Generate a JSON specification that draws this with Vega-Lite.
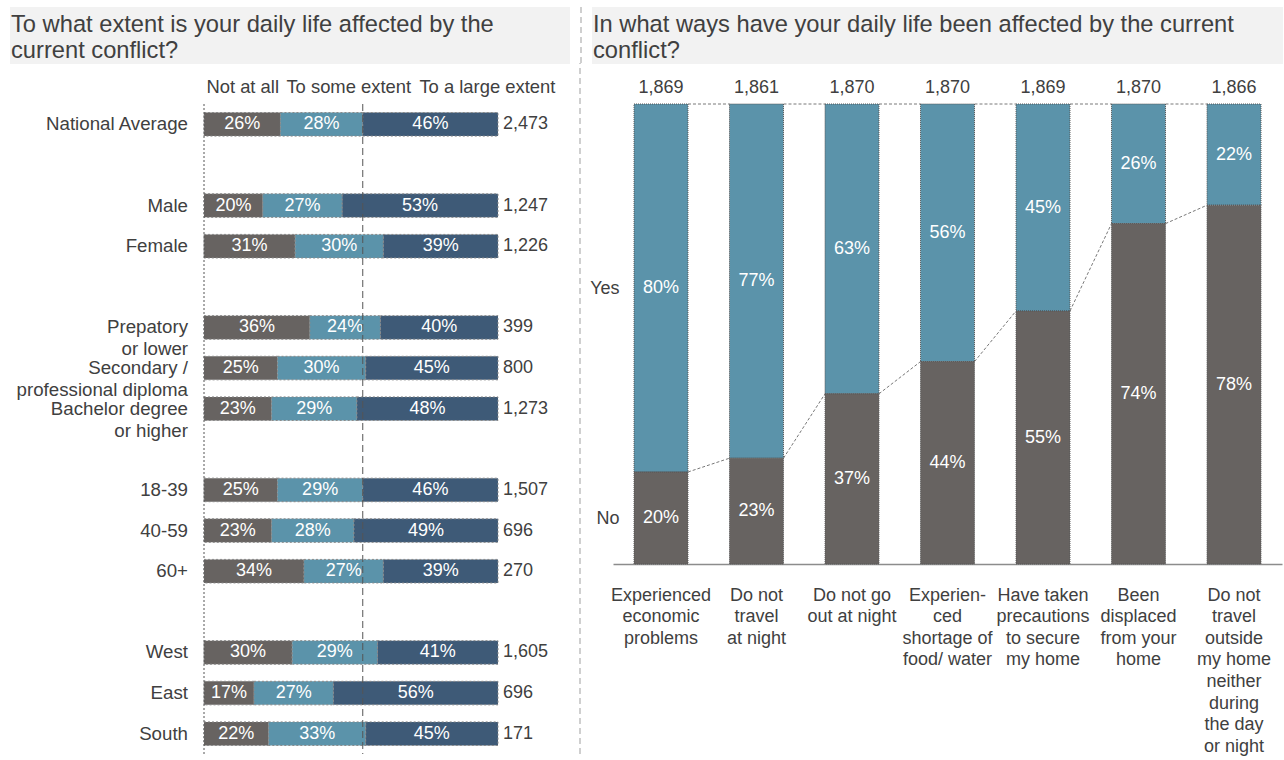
{
  "$schema": "https://vega.github.io/schema/vega-lite/v6.json",
  "padding": {"left": 10, "top": 6, "right": 0, "bottom": 0},
  "background": "white",
  "config": {
    "view": {"stroke": null},
    "font": "Liberation Sans",
    "axis": {"labelFont": "Liberation Sans", "labelColor": "#404040", "labelFontSize": 18, "grid": false},
    "legend": {"labelFont": "Liberation Sans"}
  },
  "datasets": {
    "left": [
      {"grp": "National Average", "cat": "Not at all", "k": 1, "v": 0.26},
      {"grp": "National Average", "cat": "To some extent", "k": 2, "v": 0.28},
      {"grp": "National Average", "cat": "To a large extent", "k": 3, "v": 0.46},
      {"grp": "Male", "cat": "Not at all", "k": 1, "v": 0.20},
      {"grp": "Male", "cat": "To some extent", "k": 2, "v": 0.27},
      {"grp": "Male", "cat": "To a large extent", "k": 3, "v": 0.53},
      {"grp": "Female", "cat": "Not at all", "k": 1, "v": 0.31},
      {"grp": "Female", "cat": "To some extent", "k": 2, "v": 0.30},
      {"grp": "Female", "cat": "To a large extent", "k": 3, "v": 0.39},
      {"grp": "Prepatory or lower", "cat": "Not at all", "k": 1, "v": 0.36},
      {"grp": "Prepatory or lower", "cat": "To some extent", "k": 2, "v": 0.24},
      {"grp": "Prepatory or lower", "cat": "To a large extent", "k": 3, "v": 0.40},
      {"grp": "Secondary / professional diploma", "cat": "Not at all", "k": 1, "v": 0.25},
      {"grp": "Secondary / professional diploma", "cat": "To some extent", "k": 2, "v": 0.30},
      {"grp": "Secondary / professional diploma", "cat": "To a large extent", "k": 3, "v": 0.45},
      {"grp": "Bachelor degree or higher", "cat": "Not at all", "k": 1, "v": 0.23},
      {"grp": "Bachelor degree or higher", "cat": "To some extent", "k": 2, "v": 0.29},
      {"grp": "Bachelor degree or higher", "cat": "To a large extent", "k": 3, "v": 0.48},
      {"grp": "18-39", "cat": "Not at all", "k": 1, "v": 0.25},
      {"grp": "18-39", "cat": "To some extent", "k": 2, "v": 0.29},
      {"grp": "18-39", "cat": "To a large extent", "k": 3, "v": 0.46},
      {"grp": "40-59", "cat": "Not at all", "k": 1, "v": 0.23},
      {"grp": "40-59", "cat": "To some extent", "k": 2, "v": 0.28},
      {"grp": "40-59", "cat": "To a large extent", "k": 3, "v": 0.49},
      {"grp": "60+", "cat": "Not at all", "k": 1, "v": 0.34},
      {"grp": "60+", "cat": "To some extent", "k": 2, "v": 0.27},
      {"grp": "60+", "cat": "To a large extent", "k": 3, "v": 0.39},
      {"grp": "West", "cat": "Not at all", "k": 1, "v": 0.30},
      {"grp": "West", "cat": "To some extent", "k": 2, "v": 0.29},
      {"grp": "West", "cat": "To a large extent", "k": 3, "v": 0.41},
      {"grp": "East", "cat": "Not at all", "k": 1, "v": 0.17},
      {"grp": "East", "cat": "To some extent", "k": 2, "v": 0.27},
      {"grp": "East", "cat": "To a large extent", "k": 3, "v": 0.56},
      {"grp": "South", "cat": "Not at all", "k": 1, "v": 0.22},
      {"grp": "South", "cat": "To some extent", "k": 2, "v": 0.33},
      {"grp": "South", "cat": "To a large extent", "k": 3, "v": 0.45}
    ],
    "leftN": [
      {"grp": "National Average", "lbl": "National Average", "n": 2473},
      {"grp": "Male", "lbl": "Male", "n": 1247},
      {"grp": "Female", "lbl": "Female", "n": 1226},
      {"grp": "Prepatory or lower", "lbl": ["Prepatory", "or lower"], "n": 399},
      {"grp": "Secondary / professional diploma", "lbl": ["Secondary /\u00a0", "professional diploma"], "n": 800},
      {"grp": "Bachelor degree or higher", "lbl": ["Bachelor degree", "or higher"], "n": 1273},
      {"grp": "18-39", "lbl": "18-39", "n": 1507},
      {"grp": "40-59", "lbl": "40-59", "n": 696},
      {"grp": "60+", "lbl": "60+", "n": 270},
      {"grp": "West", "lbl": "West", "n": 1605},
      {"grp": "East", "lbl": "East", "n": 696},
      {"grp": "South", "lbl": "South", "n": 171}
    ],
    "right": [
      {"item": "Experienced|economic|problems", "resp": "Yes", "v": 0.80},
      {"item": "Experienced|economic|problems", "resp": "No", "v": 0.20},
      {"item": "Do not|travel|at night", "resp": "Yes", "v": 0.77},
      {"item": "Do not|travel|at night", "resp": "No", "v": 0.23},
      {"item": "Do not go|out at night", "resp": "Yes", "v": 0.63},
      {"item": "Do not go|out at night", "resp": "No", "v": 0.37},
      {"item": "Experien-|ced|shortage of|food/ water", "resp": "Yes", "v": 0.56},
      {"item": "Experien-|ced|shortage of|food/ water", "resp": "No", "v": 0.44},
      {"item": "Have taken|precautions|to secure|my home", "resp": "Yes", "v": 0.45},
      {"item": "Have taken|precautions|to secure|my home", "resp": "No", "v": 0.55},
      {"item": "Been|displaced|from your|home", "resp": "Yes", "v": 0.26},
      {"item": "Been|displaced|from your|home", "resp": "No", "v": 0.74},
      {"item": "Do not|travel|outside|my home|neither|during|the day|or night", "resp": "Yes", "v": 0.22},
      {"item": "Do not|travel|outside|my home|neither|during|the day|or night", "resp": "No", "v": 0.78}
    ],
    "rightN": [
      {"item": "Experienced|economic|problems", "n": 1869},
      {"item": "Do not|travel|at night", "n": 1861},
      {"item": "Do not go|out at night", "n": 1870},
      {"item": "Experien-|ced|shortage of|food/ water", "n": 1870},
      {"item": "Have taken|precautions|to secure|my home", "n": 1869},
      {"item": "Been|displaced|from your|home", "n": 1870},
      {"item": "Do not|travel|outside|my home|neither|during|the day|or night", "n": 1866}
    ],
    "conn": [
      {"from": "Experienced|economic|problems", "to": "Do not|travel|at night", "y1": 0.20, "y2": 0.23},
      {"from": "Do not|travel|at night", "to": "Do not go|out at night", "y1": 0.23, "y2": 0.37},
      {"from": "Do not go|out at night", "to": "Experien-|ced|shortage of|food/ water", "y1": 0.37, "y2": 0.44},
      {"from": "Experien-|ced|shortage of|food/ water", "to": "Have taken|precautions|to secure|my home", "y1": 0.44, "y2": 0.55},
      {"from": "Have taken|precautions|to secure|my home", "to": "Been|displaced|from your|home", "y1": 0.55, "y2": 0.74},
      {"from": "Been|displaced|from your|home", "to": "Do not|travel|outside|my home|neither|during|the day|or night", "y1": 0.74, "y2": 0.78},
      {"from": "Experienced|economic|problems", "to": "Do not|travel|at night", "y1": 1, "y2": 1},
      {"from": "Do not|travel|at night", "to": "Do not go|out at night", "y1": 1, "y2": 1},
      {"from": "Do not go|out at night", "to": "Experien-|ced|shortage of|food/ water", "y1": 1, "y2": 1},
      {"from": "Experien-|ced|shortage of|food/ water", "to": "Have taken|precautions|to secure|my home", "y1": 1, "y2": 1},
      {"from": "Have taken|precautions|to secure|my home", "to": "Been|displaced|from your|home", "y1": 1, "y2": 1},
      {"from": "Been|displaced|from your|home", "to": "Do not|travel|outside|my home|neither|during|the day|or night", "y1": 1, "y2": 1}
    ]
  },
  "spacing": -3,
  "vconcat": [
    {
      "spacing": 10,
      "hconcat": [
        {
          "width": 560,
          "height": 57,
          "view": {"fill": "#f2f2f2", "stroke": null},
          "data": {"values": [{}]},
          "mark": {"type": "text", "align": "left", "baseline": "top", "fontSize": 23.7, "lineHeight": 26, "color": "#404040", "dx": 1, "dy": 6},
          "encoding": {
            "x": {"datum": 0, "type": "quantitative", "scale": {"domain": [0, 1]}, "axis": null},
            "y": {"datum": 1, "type": "quantitative", "scale": {"domain": [0, 1]}, "axis": null},
            "text": {"value": ["To what extent is your daily life affected by the", "current conflict?"]}
          }
        },
        {
          "width": 1,
          "height": 57,
          "data": {"values": [{}]},
          "mark": {"type": "rule", "color": "#c0c0c0", "strokeDash": [6, 4], "strokeWidth": 1.5},
          "encoding": {"x": {"datum": 0, "type": "quantitative", "scale": {"domain": [0, 1]}, "axis": null}}
        },
        {
          "width": 691,
          "height": 57,
          "view": {"fill": "#f2f2f2", "stroke": null},
          "data": {"values": [{}]},
          "mark": {"type": "text", "align": "left", "baseline": "top", "fontSize": 23.7, "lineHeight": 26, "color": "#404040", "dx": 1, "dy": 6},
          "encoding": {
            "x": {"datum": 0, "type": "quantitative", "scale": {"domain": [0, 1]}, "axis": null},
            "y": {"datum": 1, "type": "quantitative", "scale": {"domain": [0, 1]}, "axis": null},
            "text": {"value": ["In what ways have your daily life been affected by the current", "conflict?"]}
          }
        }
      ]
    },
    {
      "spacing": 15,
      "hconcat": [
        {
          "width": 178,
          "height": 650,
          "data": {"name": "leftN"},
          "mark": {"type": "text", "align": "right", "baseline": "middle", "fontSize": 18.7, "lineHeight": 22, "color": "#404040"},
          "encoding": {
            "y": {"field": "grp", "type": "nominal", "axis": null,
              "scale": {"domain": ["National Average", " ", "Male", "Female", "  ", "Prepatory or lower", "Secondary / professional diploma", "Bachelor degree or higher", "   ", "18-39", "40-59", "60+", "    ", "West", "East", "South"], "paddingInner": 0.42, "paddingOuter": 0.21}},
            "x": {"datum": 1, "type": "quantitative", "scale": {"domain": [0, 1]}, "axis": null},
            "text": {"field": "lbl"}
          }
        },
        {
          "spacing": 8,
          "hconcat": [
            {
              "width": 294,
              "height": 650,
              "resolve": {"scale": {"color": "independent"}},
              "layer": [
                {
                  "data": {"name": "left"},
                  "mark": {"type": "bar", "stroke": "#8a8a8a", "strokeDash": [2, 2], "strokeWidth": 1},
                  "encoding": {
                    "y": {"field": "grp", "type": "nominal", "title": null,
                      "scale": {"domain": ["National Average", " ", "Male", "Female", "  ", "Prepatory or lower", "Secondary / professional diploma", "Bachelor degree or higher", "   ", "18-39", "40-59", "60+", "    ", "West", "East", "South"], "paddingInner": 0.42, "paddingOuter": 0.21},
                      "axis": null},
                    "x": {"field": "v", "type": "quantitative", "stack": "zero", "scale": {"domain": [0, 1]}, "axis": null},
                    "order": {"field": "k", "type": "quantitative"},
                    "color": {"field": "cat", "type": "nominal", "sort": ["Not at all", "To some extent", "To a large extent"],
                      "scale": {"domain": ["Not at all", "To some extent", "To a large extent"], "range": ["#676361", "#5b93aa", "#3e5a77"]},
                      "legend": {"orient": "top", "title": null, "direction": "horizontal", "symbolSize": 0, "symbolStrokeWidth": 0, "symbolOpacity": 0, "labelFontSize": 18.4, "labelColor": "#404040", "labelOffset": -16, "columnPadding": 5, "offset": 7, "padding": 0, "labelLimit": 0}}
                  }
                },
                {
                  "data": {"name": "left"},
                  "mark": {"type": "text", "fontSize": 18, "baseline": "middle"},
                  "encoding": {
                    "y": {"field": "grp", "type": "nominal", "axis": null},
                    "x": {"field": "v", "type": "quantitative", "stack": "zero", "bandPosition": 0.5},
                    "order": {"field": "k", "type": "quantitative"},
                    "color": {"field": "cat", "type": "nominal",
                      "scale": {"domain": ["Not at all", "To some extent", "To a large extent"], "range": ["#ffffff", "#ffffff", "#ffffff"]}, "legend": null},
                    "text": {"field": "v", "type": "quantitative", "format": ".0%"}
                  }
                },
                {
                  "data": {"name": "leftN"},
                  "mark": {"type": "text", "fontSize": 18, "align": "left", "baseline": "middle", "dx": 5, "color": "#404040"},
                  "encoding": {
                    "y": {"field": "grp", "type": "nominal", "axis": null},
                    "x": {"datum": 1, "type": "quantitative"},
                    "text": {"field": "n", "type": "quantitative", "format": ","}
                  }
                },
                {
                  "data": {"values": [{}]},
                  "mark": {"type": "rule", "color": "#555555", "strokeDash": [2, 2], "strokeWidth": 1},
                  "encoding": {"x": {"datum": 0, "type": "quantitative"}}
                },
                {
                  "data": {"values": [{}]},
                  "mark": {"type": "rule", "color": "#555555", "strokeDash": [7, 4], "strokeWidth": 1},
                  "encoding": {"x": {"datum": 0.54, "type": "quantitative"}}
                }
              ]
            },
            {
              "width": 16,
              "height": 650,
              "data": {"values": [{}]},
              "mark": {"type": "rule", "color": "#c0c0c0", "strokeDash": [6, 4], "strokeWidth": 1.5},
              "encoding": {
                "x": {"datum": 1, "type": "quantitative", "scale": {"domain": [0, 1]}, "axis": null},
                "y": {"datum": 0, "type": "quantitative", "scale": {"domain": [0, 650]}, "axis": null},
                "y2": {"datum": 691}
              }
            },
            {
              "width": 669,
              "height": 460,
              "resolve": {"scale": {"color": "independent"}},
              "layer": [
                {
                  "data": {"name": "right"},
                  "mark": {"type": "bar", "stroke": "#555555", "strokeDash": [1, 1], "strokeWidth": 1},
                  "encoding": {
                    "x": {"field": "item", "type": "nominal", "title": null,
                      "scale": {"domain": ["Experienced|economic|problems", "Do not|travel|at night", "Do not go|out at night", "Experien-|ced|shortage of|food/ water", "Have taken|precautions|to secure|my home", "Been|displaced|from your|home", "Do not|travel|outside|my home|neither|during|the day|or night"], "paddingInner": 0.435, "paddingOuter": 0.22},
                      "axis": {"labelAngle": 0, "labelExpr": "split(datum.value, '|')", "labelLineHeight": 21.6, "labelBaseline": "top", "labelAlign": "center", "labelPadding": 22, "ticks": false, "domain": true, "domainColor": "#8c8c8c", "domainWidth": 1.5, "labelOverlap": false, "labelLimit": 0}},
                    "y": {"field": "v", "type": "quantitative", "stack": "zero", "title": null, "scale": {"domain": [0, 1]},
                      "axis": {"values": [0.1, 0.6], "labelExpr": "datum.value < 0.5 ? 'No' : 'Yes'", "domain": false, "ticks": false, "labelPadding": -6}},
                    "order": {"field": "resp", "type": "nominal", "sort": "ascending"},
                    "color": {"field": "resp", "type": "nominal", "scale": {"domain": ["No", "Yes"], "range": ["#676361", "#5b93aa"]}, "legend": null}
                  }
                },
                {
                  "data": {"name": "right"},
                  "mark": {"type": "text", "fontSize": 18, "baseline": "middle"},
                  "encoding": {
                    "x": {"field": "item", "type": "nominal"},
                    "y": {"field": "v", "type": "quantitative", "stack": "zero", "bandPosition": 0.5},
                    "order": {"field": "resp", "type": "nominal", "sort": "ascending"},
                    "color": {"field": "resp", "type": "nominal", "scale": {"domain": ["No", "Yes"], "range": ["#ffffff", "#ffffff"]}, "legend": null},
                    "text": {"field": "v", "type": "quantitative", "format": ".0%"}
                  }
                },
                {
                  "data": {"name": "rightN"},
                  "mark": {"type": "text", "fontSize": 18, "baseline": "bottom", "dy": -7, "color": "#404040"},
                  "encoding": {
                    "x": {"field": "item", "type": "nominal"},
                    "y": {"datum": 1, "type": "quantitative"},
                    "text": {"field": "n", "type": "quantitative", "format": ","}
                  }
                },
                {
                  "data": {"name": "conn"},
                  "mark": {"type": "rule", "color": "#555555", "strokeDash": [3, 2], "strokeWidth": 0.8},
                  "encoding": {
                    "x": {"field": "from", "type": "nominal", "bandPosition": 1},
                    "x2": {"field": "to", "bandPosition": 0},
                    "y": {"field": "y1", "type": "quantitative"},
                    "y2": {"field": "y2"}
                  }
                }
              ]
            }
          ]
        }
      ]
    }
  ]
}
